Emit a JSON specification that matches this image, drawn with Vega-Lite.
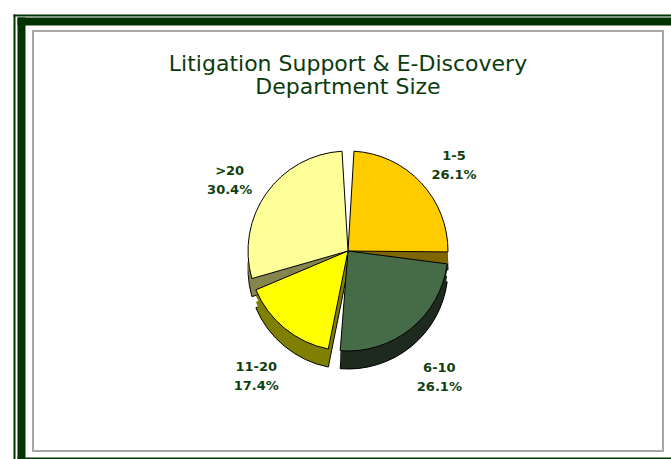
{
  "$schema": "https://vega.github.io/schema/vega-lite/v6.json",
  "width": 630,
  "height": 420,
  "autosize": {"type": "none"},
  "padding": {"left": 33, "top": 31, "right": 8, "bottom": 8},
  "background": "white",
  "config": {"view": {"stroke": "#a6a6a6", "strokeWidth": 2}},
  "title": {
    "text": ["Litigation Support & E-Discovery", "Department Size"],
    "font": "DejaVu Sans",
    "fontSize": 22,
    "fontWeight": "normal",
    "color": "#0b3b0b",
    "anchor": "middle",
    "frame": "group",
    "lineHeight": 23,
    "offset": -84
  },
  "data": {
    "values": [
      {"size": "1-5", "percent": 26.1, "order": 1},
      {"size": "6-10", "percent": 26.1, "order": 2},
      {"size": "11-20", "percent": 17.4, "order": 3},
      {"size": ">20", "percent": 30.4, "order": 4}
    ]
  },
  "layer": [
    {
      "mark": {"type": "point", "opacity": 0},
      "encoding": {
        "x": {"datum": 0, "type": "quantitative", "scale": {"domain": [0, 1], "range": [-16, 700], "nice": false, "zero": false},
          "axis": {"orient": "top", "offset": 10, "domainColor": "#003300", "domainWidth": 8, "ticks": false, "labels": false, "grid": false, "title": null}},
        "y": {"datum": 0, "type": "quantitative", "scale": {"domain": [0, 1], "range": [500, -14], "nice": false, "zero": false},
          "axis": {"orient": "left", "offset": 12, "domainColor": "#003300", "domainWidth": 8, "ticks": false, "labels": false, "grid": false, "title": null}}
      }
    },
    {
      "mark": {"type": "point", "opacity": 0},
      "encoding": {
        "x": {"datum": 0, "type": "quantitative", "scale": {"domain": [0, 1], "range": [-20, 700], "nice": false, "zero": false},
          "axis": {"orient": "top", "offset": 16, "domainColor": "#003300", "domainWidth": 2, "ticks": false, "labels": false, "grid": false, "title": null}},
        "y": {"datum": 0, "type": "quantitative", "scale": {"domain": [0, 1], "range": [500, -17], "nice": false, "zero": false},
          "axis": {"orient": "left", "offset": 19, "domainColor": "#003300", "domainWidth": 2, "ticks": false, "labels": false, "grid": false, "title": null}}
      }
    },
    {
      "mark": {"type": "point", "opacity": 0},
      "encoding": {
        "x": {"datum": 0, "type": "quantitative", "scale": {"domain": [0, 1], "range": [-16, 700], "nice": false, "zero": false},
          "axis": {"orient": "bottom", "offset": 10, "domainColor": "#003300", "domainWidth": 8, "ticks": false, "labels": false, "grid": false, "title": null}}
      }
    },
    {
      "mark": {"type": "arc", "radius": 100, "yOffset": 28, "stroke": "black", "strokeWidth": 1, "padAngle": 0.12},
      "encoding": {
        "theta": {"field": "percent", "type": "quantitative", "stack": true},
        "order": {"field": "order", "type": "quantitative"},
        "fill": {"field": "size", "type": "nominal", "scale": {"domain": ["1-5", "6-10", "11-20", ">20"], "range": ["#806600", "#1f2a1f", "#808000", "#85854f"]}, "legend": null}
      }
    },
    {
      "mark": {"type": "arc", "radius": 100, "yOffset": 22, "padAngle": 0.12},
      "encoding": {
        "theta": {"field": "percent", "type": "quantitative", "stack": true},
        "order": {"field": "order", "type": "quantitative"},
        "fill": {"field": "size", "type": "nominal", "legend": null}
      }
    },
    {
      "mark": {"type": "arc", "radius": 100, "yOffset": 16, "padAngle": 0.12},
      "encoding": {
        "theta": {"field": "percent", "type": "quantitative", "stack": true},
        "order": {"field": "order", "type": "quantitative"},
        "fill": {"field": "size", "type": "nominal", "legend": null}
      }
    },
    {
      "mark": {"type": "arc", "radius": 100, "yOffset": 10, "stroke": "black", "strokeWidth": 1, "padAngle": 0.12},
      "encoding": {
        "theta": {"field": "percent", "type": "quantitative", "stack": true},
        "order": {"field": "order", "type": "quantitative"},
        "color": {"field": "size", "type": "nominal", "scale": {"domain": ["1-5", "6-10", "11-20", ">20"], "range": ["#ffcc00", "#456b47", "#ffff00", "#ffff99"]}, "legend": null}
      }
    },
    {
      "transform": [{"calculate": "[datum.size, format(datum.percent, '.1f') + '%']", "as": "label"}],
      "mark": {"type": "text", "radius": 145, "yOffset": 14, "font": "DejaVu Sans", "fontWeight": "bold", "fontSize": 13, "lineHeight": 19, "fill": "#0f3f0f", "baseline": "middle", "align": "center"},
      "encoding": {
        "theta": {"field": "percent", "type": "quantitative", "stack": true},
        "order": {"field": "order", "type": "quantitative"},
        "text": {"field": "label"}
      }
    }
  ],
  "resolve": {
    "scale": {"x": "independent", "y": "independent"},
    "axis": {"x": "independent", "y": "independent"}
  }
}
